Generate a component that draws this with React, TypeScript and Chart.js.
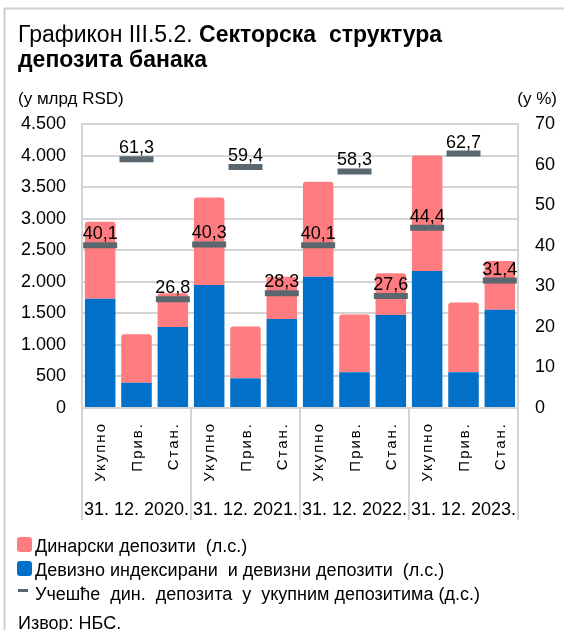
import React, { useEffect, useRef } from 'react';
import { Chart, registerables } from 'chart.js';

Chart.register(...registerables);

// ---- data ----
const categories = ['Укупно', 'Прив.', 'Стан.', 'Укупно', 'Прив.', 'Стан.', 'Укупно', 'Прив.', 'Стан.', 'Укупно', 'Прив.', 'Стан.'];
const groupLabels = ['31. 12. 2020.', '31. 12. 2021.', '31. 12. 2022.', '31. 12. 2023.'];
const fxDeposits = [1730, 400, 1285, 1950, 470, 1410, 2080, 565, 1475, 2170, 565, 1555];
const dinarDeposits = [1220, 770, 535, 1385, 820, 670, 1505, 915, 660, 1830, 1105, 775];
const dinarShare = [40.1, 61.3, 26.8, 40.3, 59.4, 28.3, 40.1, 58.3, 27.6, 44.4, 62.7, 31.4];
const leftMax = 4500;
const leftStep = 500;
const rightMax = 70;
const rightStep = 10;

const titleNormal = 'Графикон III.5.2. ';
const titleBold1 = 'Секторска  структура';
const titleBold2 = 'депозита банака';
const leftUnit = '(у млрд RSD)';
const rightUnit = '(у %)';
const legendDinar = 'Динарски депозити  (л.с.)';
const legendFx = 'Девизно индексирани  и девизни депозити  (л.с.)';
const legendShare = 'Учешће  дин.  депозита  у  укупним депозитима (д.с.)';
const sourceText = 'Извор: НБС.';

const PINK = '#ff7c80';
const BLUE = '#0070c8';
const GRAY = '#5b676f';
const GRID = '#d4d4d4';
const FONT = '"Liberation Sans", Arial, sans-serif';

const fmtLeft = (v: number) => {
  if (v >= 1000) {
    const t = Math.floor(v / 1000);
    const r = String(v % 1000).padStart(3, '0');
    return `${t}.${r}`;
  }
  return String(v);
};
const fmtComma = (v: number) => v.toFixed(1).replace('.', ',');

const decorPlugin = {
  id: 'decor',
  beforeDraw(chart: any) {
    const ctx = chart.ctx;
    ctx.save();
    ctx.fillStyle = '#ffffff';
    ctx.fillRect(0, 0, chart.width, chart.height);
    ctx.strokeStyle = '#cfcfcf';
    ctx.lineWidth = 2;
    ctx.beginPath();
    ctx.moveTo(4.5, chart.height);
    ctx.lineTo(4.5, 8.5);
    ctx.lineTo(chart.width, 8.5);
    ctx.stroke();
    ctx.restore();
  },
  afterDatasetsDraw(chart: any) {
    const ctx = chart.ctx;
    const meta = chart.getDatasetMeta(0);
    ctx.save();
    ctx.fillStyle = '#000';
    ctx.font = `18px ${FONT}`;
    ctx.textAlign = 'center';
    ctx.textBaseline = 'alphabetic';
    meta.data.forEach((el: any, i: number) => {
      ctx.fillText(fmtComma(dinarShare[i]), el.x, el.y - 6);
    });
    ctx.restore();
  },
  afterDraw(chart: any) {
    const ctx = chart.ctx;
    const area = chart.chartArea;
    const xs = chart.scales.x;
    ctx.save();
    ctx.fillStyle = '#000';
    ctx.textBaseline = 'alphabetic';
    ctx.textAlign = 'left';

    // title
    ctx.font = `23px ${FONT}`;
    ctx.fillText(titleNormal, 18, 42);
    const w = ctx.measureText(titleNormal).width;
    ctx.font = `bold 23px ${FONT}`;
    ctx.fillText(titleBold1, 18 + w, 42);
    ctx.fillText(titleBold2, 18, 67);

    // units
    ctx.font = `17px ${FONT}`;
    ctx.fillText(leftUnit, 18, 104);
    ctx.textAlign = 'right';
    ctx.fillText(rightUnit, 557, 104);

    // separators below axis
    ctx.strokeStyle = GRID;
    ctx.lineWidth = 2;
    const groupW = (area.right - area.left) / groupLabels.length;
    for (let g = 0; g <= groupLabels.length; g++) {
      const x = Math.round(area.left + g * groupW);
      ctx.beginPath();
      ctx.moveTo(x, area.bottom);
      ctx.lineTo(x, area.bottom + 112);
      ctx.stroke();
    }

    // rotated category labels
    ctx.font = `15px ${FONT}`;
    (ctx as any).letterSpacing = '2px';
    ctx.textAlign = 'right';
    ctx.textBaseline = 'middle';
    categories.forEach((c, i) => {
      const x = xs.getPixelForValue(i);
      ctx.save();
      ctx.translate(x + 1, area.bottom + 14);
      ctx.rotate(-Math.PI / 2);
      ctx.fillText(c, 0, 0);
      ctx.restore();
    });
    (ctx as any).letterSpacing = '0px';

    // group labels
    ctx.font = `18px ${FONT}`;
    ctx.textAlign = 'center';
    ctx.textBaseline = 'alphabetic';
    groupLabels.forEach((g, i) => {
      const cx = area.left + (i + 0.5) * groupW;
      ctx.fillText(g, cx, area.bottom + 107);
    });

    // legend
    ctx.textAlign = 'left';
    ctx.font = `18px ${FONT}`;
    const rows = [
      { text: legendDinar, color: PINK, type: 'box', base: 552 },
      { text: legendFx, color: BLUE, type: 'box', base: 576 },
      { text: legendShare, color: GRAY, type: 'dash', base: 600 },
    ];
    rows.forEach((r) => {
      ctx.fillStyle = r.color;
      if (r.type === 'box') {
        ctx.beginPath();
        (ctx as any).roundRect(17, r.base - 15, 15, 15, 3);
        ctx.fill();
      } else {
        ctx.fillRect(18, r.base - 11, 10, 3);
      }
      ctx.fillStyle = '#000';
      ctx.fillText(r.text, 35, r.base);
    });
    ctx.fillText(sourceText, 18, 629);
    ctx.restore();
  },
};

export default function App() {
  const ref = useRef<HTMLCanvasElement | null>(null);
  useEffect(() => {
    if (!ref.current) return;
    const chart = new Chart(ref.current, {
      type: 'bar',
      data: {
        labels: categories,
        datasets: [
          {
            type: 'line',
            label: legendShare,
            data: dinarShare,
            yAxisID: 'y1',
            showLine: false,
            pointStyle: 'line',
            pointRadius: 17,
            pointHoverRadius: 17,
            pointBorderWidth: 6,
            pointHoverBorderWidth: 6,
            pointBorderColor: GRAY,
            pointBackgroundColor: GRAY,
            borderColor: GRAY,
            order: 0,
          } as any,
          {
            type: 'bar',
            label: legendFx,
            data: fxDeposits,
            backgroundColor: BLUE,
            yAxisID: 'y',
            stack: 's',
            order: 1,
            categoryPercentage: 1,
            barPercentage: 0.84,
          },
          {
            type: 'bar',
            label: legendDinar,
            data: dinarDeposits,
            backgroundColor: PINK,
            yAxisID: 'y',
            stack: 's',
            order: 1,
            borderRadius: 3,
            categoryPercentage: 1,
            barPercentage: 0.84,
          },
        ],
      },
      options: {
        responsive: false,
        animation: false,
        events: [],
        layout: { padding: { top: 124, bottom: 110, left: 0, right: 0 } },
        plugins: {
          legend: { display: false },
          tooltip: { enabled: false },
          title: { display: false },
        },
        scales: {
          x: {
            type: 'category',
            stacked: true,
            offset: true,
            grid: { display: false },
            border: { display: false },
            ticks: { display: false },
            afterFit: (s: any) => { s.height = 112; },
          },
          y: {
            position: 'left',
            stacked: true,
            min: 0,
            max: leftMax,
            ticks: {
              stepSize: leftStep,
              color: '#000',
              font: { family: FONT, size: 18 },
              padding: 16,
              callback: (v: any) => fmtLeft(Number(v)),
            },
            grid: { color: GRID, lineWidth: 2, drawTicks: false },
            border: { display: true, color: GRID, width: 2 },
            afterFit: (s: any) => { s.width = 82; },
          },
          y1: {
            position: 'right',
            min: 0,
            max: rightMax,
            ticks: {
              stepSize: rightStep,
              color: '#000',
              font: { family: FONT, size: 18 },
              padding: 17,
            },
            grid: { drawOnChartArea: false, drawTicks: false },
            border: { display: true, color: GRID, width: 2 },
            afterFit: (s: any) => { s.width = 46; },
          },
        },
      },
      plugins: [decorPlugin],
    });
    return () => chart.destroy();
  }, []);
  return (
    <div style={{ position: 'fixed', left: 0, top: 0, width: 564, height: 630, background: '#fff' }}>
      <canvas ref={ref} width={564} height={630} style={{ display: 'block', width: 564, height: 630 }} />
    </div>
  );
}
